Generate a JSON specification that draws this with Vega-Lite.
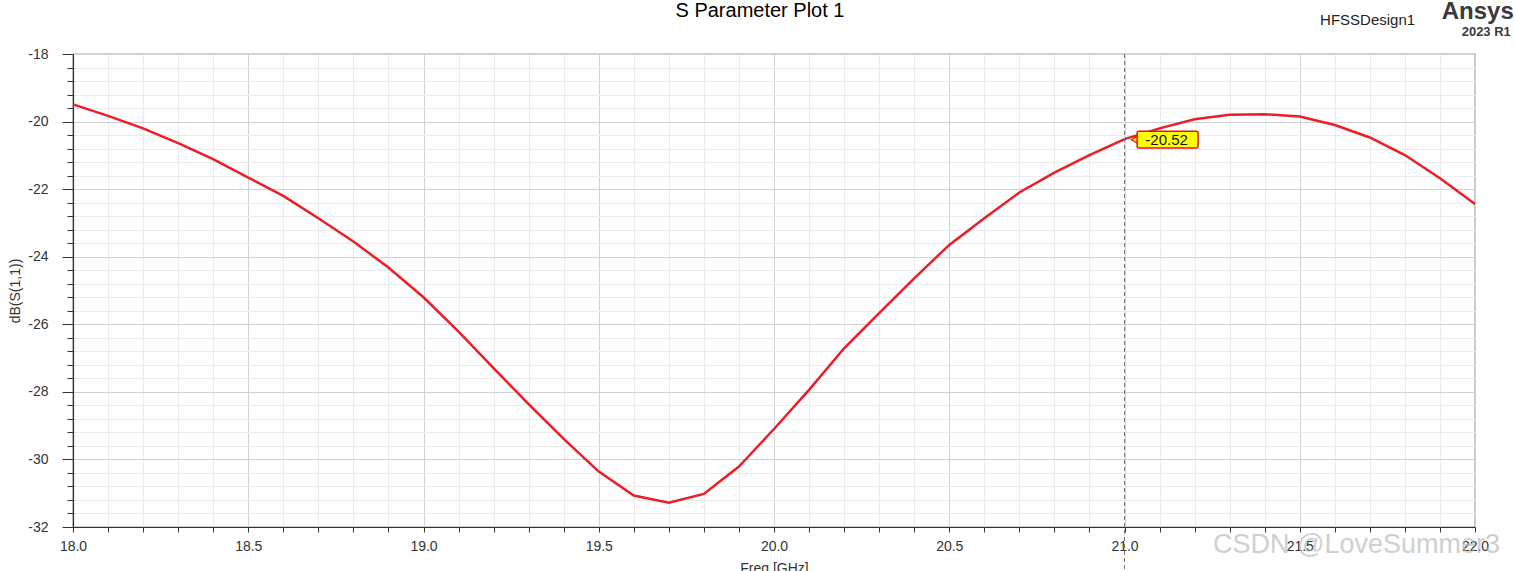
{
  "$schema": "https://vega.github.io/schema/vega-lite/v6.json",
  "width": 1402,
  "height": 473,
  "autosize": "none",
  "padding": {"left": 73, "top": 54, "right": 39, "bottom": 44},
  "background": "white",
  "config": {
    "view": {"stroke": "#444444", "strokeWidth": 1.2},
    "font": "Liberation Sans"
  },
  "datasets": {
    "curve": [
      {"x": 18.0, "y": -19.49}, {"x": 18.1, "y": -19.83}, {"x": 18.2, "y": -20.20},
      {"x": 18.3, "y": -20.64}, {"x": 18.4, "y": -21.11}, {"x": 18.5, "y": -21.66},
      {"x": 18.6, "y": -22.20}, {"x": 18.7, "y": -22.86}, {"x": 18.8, "y": -23.55},
      {"x": 18.9, "y": -24.32}, {"x": 19.0, "y": -25.20}, {"x": 19.1, "y": -26.22},
      {"x": 19.2, "y": -27.30}, {"x": 19.3, "y": -28.36}, {"x": 19.4, "y": -29.39},
      {"x": 19.5, "y": -30.36}, {"x": 19.6, "y": -31.07}, {"x": 19.7, "y": -31.28},
      {"x": 19.8, "y": -31.02}, {"x": 19.9, "y": -30.21}, {"x": 20.0, "y": -29.10},
      {"x": 20.1, "y": -27.94}, {"x": 20.2, "y": -26.71}, {"x": 20.3, "y": -25.67},
      {"x": 20.4, "y": -24.64}, {"x": 20.5, "y": -23.65}, {"x": 20.6, "y": -22.86},
      {"x": 20.7, "y": -22.10}, {"x": 20.8, "y": -21.51}, {"x": 20.9, "y": -20.99},
      {"x": 21.0, "y": -20.52}, {"x": 21.1, "y": -20.20}, {"x": 21.2, "y": -19.93},
      {"x": 21.3, "y": -19.80}, {"x": 21.4, "y": -19.78}, {"x": 21.5, "y": -19.85},
      {"x": 21.6, "y": -20.10}, {"x": 21.7, "y": -20.47}, {"x": 21.8, "y": -20.99},
      {"x": 21.9, "y": -21.68}, {"x": 22.0, "y": -22.44}
    ],
    "marker": [{"x": 21.0, "y": -18, "y2": -33.3}],
    "markerBox": [{"x": 21.036, "x2": 21.21, "y": -20.29, "y2": -20.78}],
    "markerPointer": [{"x": 21.03, "y": -20.54}],
    "markerText": [{"x": 21.12, "y": -20.54, "label": "-20.52"}],
    "chartTitle": [{"x": 19.96, "y": -16.914, "label": "S Parameter Plot 1"}],
    "design": [{"x": 21.558, "y": -17.142, "label": "HFSSDesign1"}],
    "brand": [{"x": 21.905, "y": -16.964, "label": "Ansys"}],
    "version": [{"x": 21.962, "y": -17.467, "label": "2023 R1"}],
    "watermark": [{"x": 21.2525, "y": -32.763, "label": "CSDN @LoveSummer3"}]
  },
  "encoding": {
    "x": {
      "field": "x",
      "type": "quantitative",
      "scale": {"domain": [18, 22], "nice": false, "zero": false},
      "axis": {
        "title": "Freq [GHz]",
        "titleFont": "Liberation Sans",
        "titleFontSize": 14,
        "titleFontWeight": "normal",
        "titleColor": "#333333",
        "titlePadding": 8,
        "values": [18.0, 18.1, 18.2, 18.3, 18.4, 18.5, 18.6, 18.7, 18.8, 18.9, 19.0, 19.1, 19.2, 19.3, 19.4, 19.5, 19.6, 19.7, 19.8, 19.9, 20.0, 20.1, 20.2, 20.3, 20.4, 20.5, 20.6, 20.7, 20.8, 20.9, 21.0, 21.1, 21.2, 21.3, 21.4, 21.5, 21.6, 21.7, 21.8, 21.9, 22.0],
        "labelExpr": "abs(datum.value*2 - round(datum.value*2)) < 0.01 ? format(datum.value, '.1f') : ''",
        "labelFont": "Liberation Sans",
        "labelFontSize": 14,
        "labelColor": "#333333",
        "labelOverlap": false,
        "labelFlush": false,
        "labelBound": false,
        "labelPadding": 7,
        "tickSize": 5,
        "tickColor": "#333333",
        "domainColor": "#333333",
        "domainWidth": 1.2,
        "grid": true,
        "gridColor": {"condition": {"test": "abs(datum.value*2 - round(datum.value*2)) < 0.01", "value": "#d2d2d2"}, "value": "#ebebeb"},
        "gridWidth": 1
      }
    },
    "y": {
      "field": "y",
      "type": "quantitative",
      "scale": {"domain": [-32, -18], "nice": false, "zero": false},
      "axis": {
        "title": "dB(S(1,1))",
        "titleFont": "Liberation Sans",
        "titleFontSize": 14,
        "titleFontWeight": "normal",
        "titleColor": "#333333",
        "titlePadding": 5,
        "values": [-32, -31.6, -31.2, -30.8, -30.4, -30, -29.6, -29.2, -28.8, -28.4, -28, -27.6, -27.2, -26.8, -26.4, -26, -25.6, -25.2, -24.8, -24.4, -24, -23.6, -23.2, -22.8, -22.4, -22, -21.6, -21.2, -20.8, -20.4, -20, -19.6, -19.2, -18.8, -18.4, -18],
        "labelExpr": "abs(datum.value/2 - round(datum.value/2)) < 0.01 ? '' + round(datum.value) : ''",
        "labelFont": "Liberation Sans",
        "labelFontSize": 14,
        "labelColor": "#333333",
        "labelOverlap": false,
        "labelFlush": false,
        "labelBound": false,
        "labelPadding": 14,
        "tickSize": {"condition": {"test": "abs(datum.value/2 - round(datum.value/2)) < 0.01", "value": 11}, "value": 6},
        "tickColor": "#333333",
        "domainColor": "#333333",
        "domainWidth": 1.2,
        "grid": true,
        "gridColor": {"condition": {"test": "abs(datum.value/2 - round(datum.value/2)) < 0.01", "value": "#d2d2d2"}, "value": "#ebebeb"},
        "gridWidth": 1
      }
    }
  },
  "layer": [
    {
      "data": {"name": "curve"},
      "mark": {"type": "line", "color": "#ee1c25", "strokeWidth": 2.5, "interpolate": "linear"}
    },
    {
      "data": {"name": "marker"},
      "mark": {"type": "rule", "color": "#777777", "strokeWidth": 1, "strokeDash": [4, 3]},
      "encoding": {"y2": {"field": "y2"}}
    },
    {
      "data": {"name": "markerPointer"},
      "mark": {"type": "point", "shape": "triangle-left", "filled": true, "fill": "#ffff00", "stroke": "#e8101a", "strokeWidth": 1.2, "size": 70, "opacity": 1}
    },
    {
      "data": {"name": "markerBox"},
      "mark": {"type": "rect", "fill": "#ffff00", "stroke": "#e8101a", "strokeWidth": 1.5, "cornerRadius": 2},
      "encoding": {"x2": {"field": "x2"}, "y2": {"field": "y2"}}
    },
    {
      "data": {"name": "markerText"},
      "mark": {"type": "text", "font": "Liberation Sans", "fontSize": 15, "color": "#111111", "align": "center", "baseline": "middle"},
      "encoding": {"text": {"field": "label"}}
    },
    {
      "data": {"name": "chartTitle"},
      "mark": {"type": "text", "font": "Liberation Sans", "fontSize": 20, "color": "#000000", "align": "center", "baseline": "alphabetic"},
      "encoding": {"text": {"field": "label"}}
    },
    {
      "data": {"name": "design"},
      "mark": {"type": "text", "font": "Liberation Sans", "fontSize": 15, "color": "#222222", "align": "left", "baseline": "alphabetic"},
      "encoding": {"text": {"field": "label"}}
    },
    {
      "data": {"name": "brand"},
      "mark": {"type": "text", "font": "Liberation Sans", "fontSize": 24, "fontWeight": "bold", "color": "#3a3a3a", "align": "left", "baseline": "alphabetic"},
      "encoding": {"text": {"field": "label"}}
    },
    {
      "data": {"name": "version"},
      "mark": {"type": "text", "font": "Liberation Sans", "fontSize": 13, "fontWeight": "bold", "color": "#3a3a3a", "align": "left", "baseline": "alphabetic"},
      "encoding": {"text": {"field": "label"}}
    },
    {
      "data": {"name": "watermark"},
      "mark": {"type": "text", "font": "Liberation Sans", "fontSize": 27, "color": "#b0b0b0", "opacity": 0.6, "align": "left", "baseline": "alphabetic"},
      "encoding": {"text": {"field": "label"}}
    }
  ]
}
